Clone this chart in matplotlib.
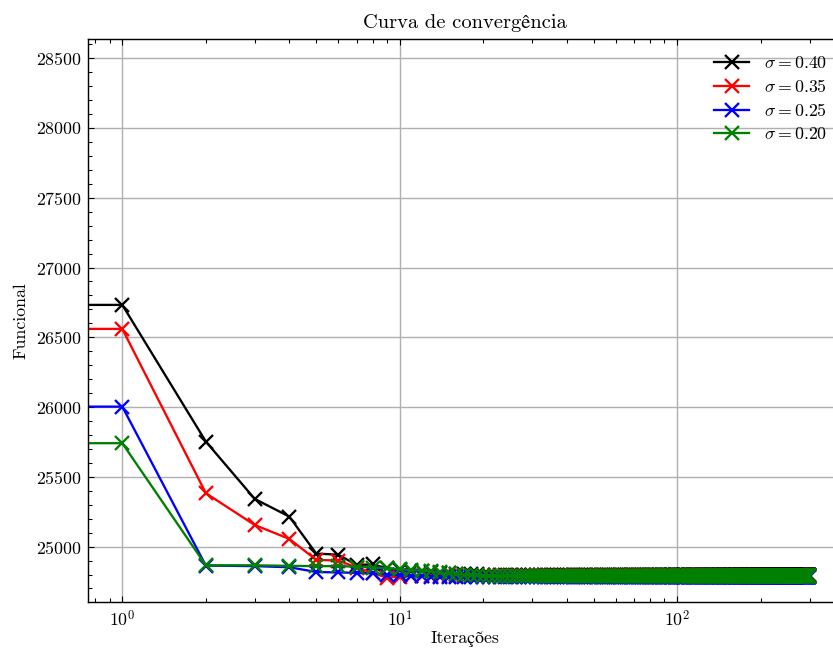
import matplotlib
matplotlib.use('Agg')
import matplotlib.pyplot as plt
from matplotlib.ticker import AutoMinorLocator

plt.rcParams['font.family'] = ['cmr10', 'STIXGeneral']
plt.rcParams['mathtext.fontset'] = 'cm'
plt.rcParams['axes.formatter.use_mathtext'] = True
plt.rcParams['font.size'] = 10

n_iter = 300

# first iterations (index 0 = starting value)
head_040 = [26732, 26732, 25753, 25342, 25215, 24950, 24942, 24869, 24872,
            24845, 24835, 24828, 24822, 24818, 24814, 24810, 24807, 24805,
            24803, 24801]
head_035 = [26560, 26560, 25383, 25155, 25055, 24905, 24900, 24850, 24810,
            24778, 24785, 24790, 24792]
head_025 = [26003, 26003, 24864, 24860, 24852, 24818, 24815, 24812, 24808,
            24800, 24795, 24790, 24786, 24782]
head_020 = [25741, 25741, 24866, 24866, 24862, 24860, 24860, 24856, 24850,
            24845, 24838, 24833, 24828, 24822, 24815, 24810, 24805, 24800,
            24796, 24793]

# plateau reached after the first iterations
plateau_040 = 24800
plateau_035 = 24792
plateau_025 = 24780
plateau_020 = 24790

sigmas = ['0.40', '0.35', '0.25', '0.20']
colors = ['k', 'r', 'b', 'g']


def full_series(head, plateau):
    return head + [plateau] * (n_iter - len(head))


series = [full_series(head_040, plateau_040),
          full_series(head_035, plateau_035),
          full_series(head_025, plateau_025),
          full_series(head_020, plateau_020)]

fig = plt.figure(figsize=(833 / 128, 649 / 128), dpi=128)
ax = fig.add_axes([0.1056, 0.072, 0.906, 0.868])

for y, s, c in zip(series, sigmas, colors):
    ax.plot(range(len(y)), y, color=c, marker='x', markersize=7.5,
            markeredgewidth=1.3, linewidth=1.3, label=r'$\sigma = %s$' % s)

ax.set_xscale('log')
ax.set_xlim(0.752, 395)
ax.set_ylim(24601, 28638)
ax.ticklabel_format(axis='y', useOffset=False)
ax.yaxis.set_minor_locator(AutoMinorLocator(5))

ax.tick_params(which='both', direction='in', top=True, right=True)
ax.tick_params(which='major', length=3.5, width=0.6)
ax.tick_params(which='minor', length=2, width=0.6)
for sp in ax.spines.values():
    sp.set_linewidth(0.8)

ax.grid(True, which='major', color='#b0b0b0', linewidth=0.8)
ax.set_axisbelow(True)

ax.set_title('Curva de convergência', fontsize=11.5)
ax.set_xlabel('Iterações', labelpad=1)
ax.set_ylabel('Funcional')
ax.legend(loc='upper right', frameon=False, labelspacing=0.4)

fig.savefig('out.png', dpi=128)
